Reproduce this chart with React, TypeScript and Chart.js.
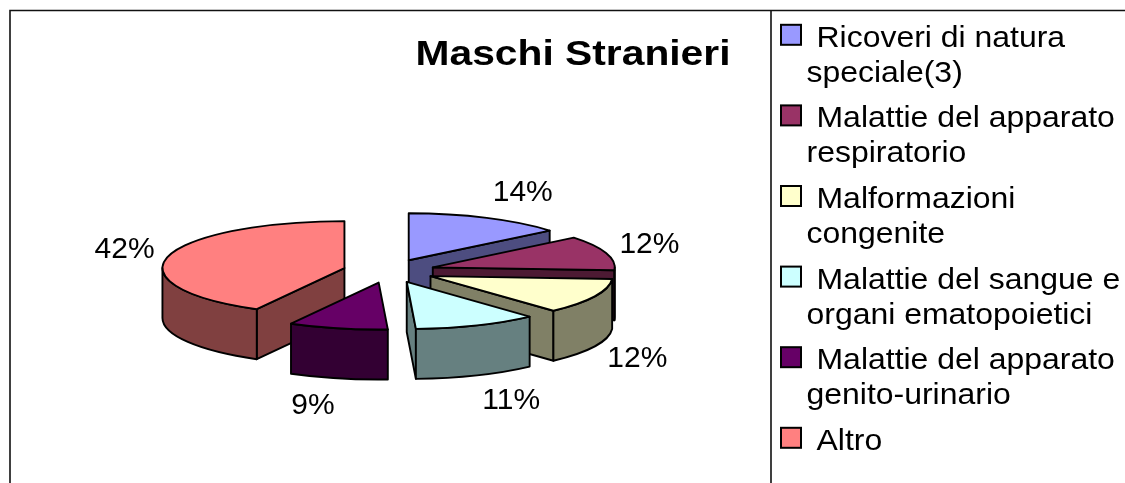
import React, { useEffect, useRef } from 'react';
import Chart from 'chart.js/auto';

const TITLE = 'Maschi Stranieri';
const CATEGORIES: string[][] = [
  ['Ricoveri di natura', 'speciale(3)'],
  ['Malattie del apparato', 'respiratorio'],
  ['Malformazioni', 'congenite'],
  ['Malattie del sangue e', 'organi ematopoietici'],
  ['Malattie del apparato', 'genito-urinario'],
  ['Altro'],
];
const SHARES = [14.1, 11.9, 12.2, 11.0, 8.8, 42.0];
const COLORS = ['#9999FF', '#993366', '#FFFFCC', '#CCFFFF', '#660066', '#FF8080'];

const FONT = '"Liberation Sans", Arial, Helvetica, sans-serif';
const TILT = 0.258;
const DEPTH = 50;
const EXPLODE = 46;

function darken(hex: string, f: number) {
  const n = parseInt(hex.slice(1), 16);
  const r = Math.round(((n >> 16) & 255) * f);
  const g = Math.round(((n >> 8) & 255) * f);
  const b = Math.round((n & 255) * f);
  return `rgb(${r},${g},${b})`;
}

function geom(arc: any) {
  const a0 = arc.startAngle, a1 = arc.endAngle, m = (a0 + a1) / 2;
  const e = arc.options.offset || 0;
  const rx = arc.outerRadius, ry = rx * TILT;
  const ox = arc.x + e * Math.cos(m), oy = arc.y + e * TILT * Math.sin(m);
  return { a0, a1, m, rx, ry, ox, oy };
}

function drawSlice(ctx: CanvasRenderingContext2D, arc: any, color: string) {
  const { a0, a1, rx, ry, ox, oy } = geom(arc);
  const px = (a: number) => ox + rx * Math.cos(a);
  const py = (a: number) => oy + ry * Math.sin(a);
  const side = darken(color, 0.5);
  ctx.lineWidth = 1.9;
  ctx.strokeStyle = '#000';
  ctx.lineJoin = 'round';
  const wall = (a: number) => {
    ctx.beginPath();
    ctx.moveTo(ox, oy);
    ctx.lineTo(px(a), py(a));
    ctx.lineTo(px(a), py(a) + DEPTH);
    ctx.lineTo(ox, oy + DEPTH);
    ctx.closePath();
    ctx.fillStyle = side;
    ctx.fill();
    ctx.stroke();
  };
  if (Math.cos(a0) < -1e-6) wall(a0);
  if (Math.cos(a1) > 1e-6) wall(a1);
  const b0 = Math.max(a0, 0), b1 = Math.min(a1, Math.PI);
  if (b1 > b0) {
    ctx.beginPath();
    ctx.ellipse(ox, oy, rx, ry, 0, b0, b1, false);
    ctx.lineTo(px(b1), py(b1) + DEPTH);
    ctx.ellipse(ox, oy + DEPTH, rx, ry, 0, b1, b0, true);
    ctx.closePath();
    ctx.fillStyle = side;
    ctx.fill();
    ctx.stroke();
  }
  ctx.beginPath();
  ctx.moveTo(ox, oy);
  ctx.ellipse(ox, oy, rx, ry, 0, a0, a1, false);
  ctx.closePath();
  ctx.fillStyle = color;
  ctx.fill();
  ctx.stroke();
}

function stretchText(ctx: CanvasRenderingContext2D, text: string, x: number, y: number, sx: number) {
  ctx.save();
  ctx.translate(x, y);
  ctx.scale(sx, 1);
  ctx.fillText(text, 0, 0);
  ctx.restore();
}

const pie3d = {
  id: 'pie3d',
  beforeDatasetsDraw(chart: any) {
    const ctx: CanvasRenderingContext2D = chart.ctx;
    const meta = chart.getDatasetMeta(0);
    const arcs = meta.data;
    const colors = chart.data.datasets[0].backgroundColor as string[];
    const order = arcs.map((_: any, i: number) => i).sort((i: number, j: number) =>
      Math.sin(geom(arcs[i]).m) - Math.sin(geom(arcs[j]).m));
    ctx.save();
    for (const i of order) drawSlice(ctx, arcs[i], colors[i]);
    ctx.restore();

    // data labels
    const values = chart.data.datasets[0].data as number[];
    const total = values.reduce((s, v) => s + v, 0);
    ctx.save();
    ctx.font = `30px ${FONT}`;
    ctx.fillStyle = '#000';
    ctx.textAlign = 'center';
    ctx.textBaseline = 'middle';
    arcs.forEach((arc: any, i: number) => {
      const { m, rx, ry, ox, oy } = geom(arc);
      const txt = Math.round((values[i] / total) * 100) + '%';
      const w = ctx.measureText(txt).width;
      const c = Math.cos(m), s = Math.sin(m);
      const ax = ox + rx * c;
      const ay = oy + ry * s + (s > 0 ? DEPTH : 0);
      const lx = ax + c * 14 + Math.sign(c) * w / 2;
      const ly = ay + s * 28;
      ctx.fillText(txt, lx, ly);
    });
    ctx.restore();
    return false;
  },
  afterDraw(chart: any) {
    const ctx: CanvasRenderingContext2D = chart.ctx;
    ctx.save();
    // frame
    ctx.strokeStyle = '#111';
    ctx.lineWidth = 1.6;
    ctx.beginPath();
    ctx.moveTo(10, 483);
    ctx.lineTo(10, 10.5);
    ctx.lineTo(1125, 10.5);
    ctx.moveTo(771, 10.5);
    ctx.lineTo(771, 483);
    ctx.stroke();

    // title
    ctx.fillStyle = '#000';
    ctx.textAlign = 'left';
    ctx.textBaseline = 'alphabetic';
    ctx.font = `bold 35px ${FONT}`;
    stretchText(ctx, TITLE, 415.5, 64.5, 1.165);

    // legend
    const labels = chart.data.labels as string[][];
    const colors = chart.data.datasets[0].backgroundColor as string[];
    ctx.font = `30px ${FONT}`;
    labels.forEach((lines, i) => {
      const b = 46.8 + i * 80.6;
      ctx.fillStyle = colors[i];
      ctx.fillRect(781, b - 22, 20, 20);
      ctx.lineWidth = 2;
      ctx.strokeStyle = '#000';
      ctx.strokeRect(781, b - 22, 20, 20);
      ctx.fillStyle = '#000';
      lines.forEach((ln, k) => {
        stretchText(ctx, ln, k === 0 ? 816.5 : 806.5, b + k * 35, 1.065);
      });
    });
    ctx.restore();
  },
};

export default function App() {
  const ref = useRef<HTMLCanvasElement>(null);
  useEffect(() => {
    if (!ref.current) return;
    const S = 364 + EXPLODE;
    const cx = 389, cy = 271;
    const chart = new Chart(ref.current, {
      type: 'pie',
      data: {
        labels: CATEGORIES as any,
        datasets: [{
          data: SHARES,
          backgroundColor: COLORS,
          borderWidth: 0,
          hoverBorderWidth: 0,
          offset: EXPLODE,
          hoverOffset: EXPLODE,
        } as any],
      },
      options: {
        responsive: true,
        maintainAspectRatio: false,
        animation: false,
        events: [],
        layout: {
          padding: {
            left: cx - S / 2,
            right: 1125 - (cx + S / 2),
            top: cy - S / 2,
            bottom: 483 - (cy + S / 2),
          },
        },
        plugins: {
          legend: { display: false },
          title: { display: false },
          tooltip: { enabled: false },
        },
      },
      plugins: [pie3d],
    });
    return () => chart.destroy();
  }, []);
  return (
    <div style={{ position: 'absolute', left: 0, top: 0, width: 1125, height: 483, background: '#fff' }}>
      <canvas ref={ref} />
    </div>
  );
}
